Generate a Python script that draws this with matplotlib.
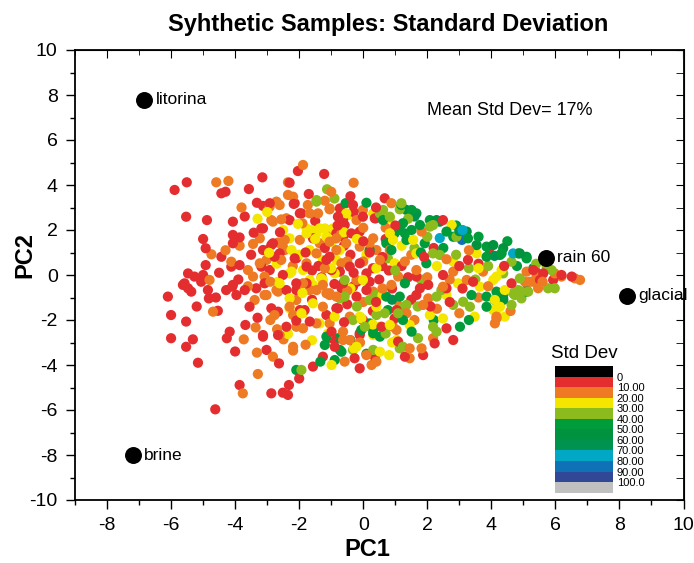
import numpy as np
import matplotlib
matplotlib.use("Agg")
import matplotlib.pyplot as plt
from matplotlib.colors import ListedColormap, BoundaryNorm
from matplotlib.ticker import MultipleLocator

plt.rcParams['font.family'] = ['Liberation Sans', 'DejaVu Sans']
plt.rcParams['axes.unicode_minus'] = False

# sample scores (PC1, PC2), grouped by std dev class
std_0_10 = [
    (-5.89, 3.78), (-5.51, 4.12), (-4.43, 3.63), (-4.3, 3.7), (-3.57, 3.82), (-3.15, 4.34), (-2.04, 4.62),
    (-1.22, 4.49), (-2.3, 4.1), (-5.53, 2.59), (-4.88, 2.44), (-4.07, 2.37), (-3.32, 3.21), (-3.13, 3.07),
    (-2.17, 3.16), (-1.93, 2.74), (-0.79, 2.59), (-2.3, 2.44), (-3.13, 2.07), (-3.42, 1.88), (-4.07, 1.78),
    (-4.07, 1.41), (-3.86, 1.67), (-2.87, 1.33), (-1.57, 1.63), (-4.92, 1.19), (-4.43, 0.81), (-4.92, 0.44),
    (-4.12, 0.37), (-3.86, 0.44), (-5.47, 0.07), (-5.27, -0.07), (-5.0, 0.0), (-5.06, -0.3), (-5.58, -0.37),
    (-5.47, -0.59), (-5.37, -0.74), (-4.85, -0.67), (-6.1, -0.96), (-4.28, -0.67), (-4.09, -0.52),
    (-3.96, -0.89), (-3.7, -0.67), (-3.34, -0.59), (-3.08, -0.37), (-2.77, 0.81), (-2.98, 1.11),
    (-2.09, 0.74), (-1.05, 0.81), (-2.4, -0.67), (-2.09, -0.37), (-1.77, -0.37), (-0.68, -0.59),
    (-5.63, -0.44), (-4.82, -1.04), (-4.07, -0.44), (-3.55, -1.41), (-6.0, -1.78), (-5.53, -2.07),
    (-4.54, -1.59), (-6.0, -2.81), (-5.53, -3.19), (-5.32, -2.86), (-5.16, -3.9), (-4.17, -2.52),
    (-4.26, -2.81), (-3.68, -2.22), (-3.13, -2.74), (-3.02, -3.33), (-2.63, -3.93), (-3.86, -4.89),
    (-2.87, -5.26), (-2.51, -5.23), (-2.35, -5.33), (-2.32, -4.89), (-4.62, -5.97), (-2.66, -2.67),
    (-2.87, -1.48), (-2.66, -1.63), (-2.09, -2.03), (-1.83, -1.56), (-1.15, -1.78), (-0.79, -1.48),
    (-0.99, -2.81), (-0.89, -3.19), (-1.26, -3.63), (-1.57, -4.07), (-0.99, -2.52),
    (0.67, 3.41), (0.39, 2.52), (2.49, 2.44), (3.95, 0.96), (5.31, 0.22), (1.66, -0.07), (1.97, -0.37),
    (2.49, 0.0), (3.27, 0.67), (3.43, -0.3), (4.63, -0.37), (2.6, -2.37), (2.81, -2.89), (2.23, -3.04),
    (1.87, -3.56), (1.3, -3.63), (1.09, -2.96), (-0.27, -3.7), (-0.11, -4.15), (0.36, -3.63), (1.66, -0.89),
    (1.77, -0.59), (2.6, -0.59), (2.03, -0.44), (-0.11, -2.67), (0.57, -2.3), (0.98, -1.93),
    (5.36, 0.22), (5.62, 0.07), (6.19, 0.0), (6.51, -0.07), (5.52, -0.22), (5.93, -0.22),
    (-2.92, 3.19), (-2.14, 3.19), (-0.73, 2.96), (-0.32, 3.11), (-3.18, 2.07), (-1.98, 2.74), (-0.63, 2.44),
    (-0.58, 2.22), (-0.01, 2.59), (0.36, 2.52), (-2.82, 1.41), (-3.13, 1.11), (-2.61, 0.96), (-2.14, 0.74),
    (-0.84, 1.85), (-0.63, 1.7), (-0.37, 1.85), (-0.11, 1.93), (-1.15, 0.67), (-3.18, 0.37), (-2.92, 0.22),
    (-2.51, 0.0), (-2.09, -0.67), (-1.77, 0.37), (-0.99, 0.22), (-0.73, 0.15), (-0.42, 0.37), (-0.11, 0.52),
    (0.1, 0.07), (-0.63, -0.37), (-0.32, -0.52), (0.1, -0.67), (-0.21, -0.96), (-1.98, -1.56), (-1.67, -2.07),
    (-3.13, -2.67), (-0.84, -1.48), (-0.01, -2.0), (-0.11, -2.59), (1.04, -1.56),
    (0.3, 0.3), (0.5, -0.2), (0.8, 0.2), (-0.4, 0.9), (0.2, 1.0), (0.6, 0.8), (-0.2, -0.3), (0.4, -1.2),
    (-0.5, -1.3), (0.9, -0.6), (1.2, 0.4), (1.4, -0.1), (0.0, 1.5), (-1.3, -0.1), (-1.6, 0.2), (-1.2, 1.2),
    (-0.6, 1.3), (0.7, 1.6), (1.0, 2.2), (-0.3, 2.8), (2.1, -1.4), (3.0, 0.4), (3.6, 0.5), (4.4, 0.4),
    (2.2, 1.2),
    (-1.8, 1.0), (-1.4, 0.4), (-0.9, -0.4), (-0.3, 0.1), (0.2, -0.3), (0.6, 0.4), (-0.8, 2.2), (-1.5, 2.4),
    (-2.6, 1.9), (-3.5, 0.9), (-3.9, -0.2), (-4.5, 0.1), (-4.6, -1.0), (-3.3, -1.9), (-2.4, -2.3),
    (-1.6, -1.1), (-0.6, -2.1), (0.3, -1.6), (1.5, -1.1), (2.7, -1.2), (3.1, -0.6), (1.9, 0.8), (-2.0, -4.6),
    (-0.4, 3.5), (0.4, 3.0), (-1.7, 3.6), (-3.7, 2.6), (-5.0, 1.6), (-5.2, -1.4), (-4.0, -3.4),
]
std_10_20 = [
    (-4.59, 4.12), (-4.21, 4.18), (-1.88, 4.89), (-2.35, 4.12), (-1.0, 3.7), (-2.71, 3.26), (-2.92, 3.04),
    (-2.35, 3.56), (-2.19, 3.48), (-1.73, 3.11), (-1.41, 2.74), (-1.05, 2.92), (-2.82, 2.37), (-2.56, 2.47),
    (-3.86, 1.3), (-3.44, 1.38), (-3.23, 1.63), (-2.66, 1.44), (-2.45, 1.56), (-1.05, 2.0), (-0.84, 1.63),
    (-0.68, 1.85), (-4.74, 0.92), (-4.12, 0.59), (-3.6, 0.22), (-4.8, -0.22), (-3.44, -0.07), (-3.08, -0.07),
    (-3.23, 0.52), (-3.02, 0.67), (-2.45, 1.11), (-2.56, 0.67), (-1.77, 0.52), (-1.46, 0.96), (-0.84, 1.11),
    (-0.68, 0.52), (-3.02, -0.89), (-2.71, -0.67), (-1.46, -0.67), (-1.05, -0.81),
    (-3.39, -1.11), (-4.69, -1.63), (-3.73, -2.86), (-3.36, -2.33), (-3.32, -3.45), (-2.82, -3.63),
    (-3.29, -4.4), (-3.76, -5.26), (-2.19, -3.36), (-2.69, -2.41), (-2.49, -2.86), (-2.66, -0.74),
    (-2.09, -2.3), (-1.88, -2.37), (-0.58, -3.85), (-1.46, -2.15), (-1.05, -2.15), (-0.63, -2.89),
    (-1.67, -0.67), (-1.26, -0.44), (-1.05, -0.89), (-2.09, -1.11), (-2.3, -1.41),
    (0.88, 3.19), (-0.01, 2.89), (1.82, 1.93), (0.31, 1.63), (0.52, 0.67), (0.83, 1.11), (1.09, -0.07),
    (1.66, 0.22), (2.81, 0.15), (2.49, -0.52), (3.74, 0.15), (3.23, -0.22), (5.2, -0.3), (5.41, -0.07),
    (4.11, -2.15), (4.16, -1.93), (2.18, -2.81), (1.45, -3.26), (1.82, -3.26), (1.45, -3.7), (0.1, -3.56),
    (0.41, -3.85), (0.26, -4.0), (-0.42, -2.89), (2.03, -1.04), (1.87, -1.33), (1.35, -1.7), (0.93, -2.3),
    (5.1, 0.15), (5.31, -0.3), (5.46, -0.59), (5.05, -0.3), (5.98, 0.07), (6.61, -0.15), (6.77, -0.22),
    (6.19, -0.07), (4.16, -1.85),
    (-2.61, 3.11), (-1.05, 2.96), (-2.87, 2.44), (-2.4, 2.52), (-1.67, 2.74), (-0.21, 2.44), (-2.51, 1.26),
    (-1.98, 1.56), (-1.36, 1.41), (-1.05, 1.48), (-0.53, 1.41), (-0.11, 1.26), (0.2, 1.41), (0.41, 1.11),
    (-3.08, -0.89), (-1.88, -0.37), (-1.15, -0.81), (-0.84, -0.96), (-0.21, -0.22), (0.31, -0.74),
    (0.88, -0.44), (1.04, -1.11), (-2.77, -1.78), (-2.19, -1.78), (-1.26, -1.41), (-2.61, -2.67),
    (-2.19, -3.19), (-0.63, -2.52), (1.04, -2.44), (-0.42, -1.85),
    (2.6, 0.7), (3.3, 1.1), (3.6, -1.0), (2.3, -1.5), (1.5, 0.9), (0.6, -0.6), (-0.5, 0.6), (0.0, -1.2),
    (-1.2, 0.3), (-0.5, -0.7), (0.0, 0.6), (-2.2, 0.4), (-2.9, -0.3), (-3.6, -0.5), (-1.9, 2.3), (-1.2, 3.3),
    (0.0, 2.1), (0.7, 2.1), (1.3, 0.6), (2.0, -0.1), (2.7, -0.2), (3.9, -0.5), (3.0, -1.7), (1.6, -2.0),
    (-0.1, -3.0), (-1.8, -3.1), (-2.9, -2.0), (-4.3, 1.1), (-3.8, 3.0), (-0.3, 4.1), (4.6, -1.6), (5.6, -0.3),
]
std_20_30 = [
    (-2.04, 2.27), (-2.3, 1.63), (-1.77, 1.85), (-1.62, 2.0), (-1.41, 2.07), (-1.15, 1.7), (-0.99, 1.48),
    (-2.94, 0.99), (-2.24, 1.11), (-2.3, 0.07), (-1.88, 0.22), (-1.26, 0.67), (-0.84, 0.67), (-1.26, -0.22),
    (-0.89, 0.07), (-2.61, -0.37), (-2.35, -2.62), (-1.88, -1.7), (-1.57, -1.26), (-1.36, -2.15),
    (-0.99, -4.0), (-2.3, -1.04), (-1.57, -0.44),
    (-0.53, 2.74), (0.83, 2.52), (0.31, 2.74), (2.76, 2.22), (3.54, 0.96), (1.56, 1.56), (1.66, 0.96),
    (2.81, 0.59), (0.41, 0.3), (0.98, 0.52), (2.96, -0.37), (3.64, -0.52), (4.06, -0.22),
    (4.11, -1.11), (4.16, -1.56), (4.42, -1.85), (3.48, -1.85), (2.08, -1.78), (2.49, -1.93), (0.81, -3.56),
    (1.04, -2.89), (0.52, -3.41), (-0.29, -3.26), (0.31, -2.67), (-0.06, -1.93), (0.52, -2.3), (0.83, -2.22),
    (1.45, -2.22), (4.32, 0.22), (4.16, -0.07), (4.42, -0.67), (4.27, -1.41), (4.06, -1.56),
    (-0.47, 2.67), (-1.36, 2.07), (-1.77, 2.07), (-1.46, 1.85), (-1.2, 2.07), (-0.94, 2.07), (0.83, 1.85),
    (0.93, 1.56), (-2.98, 1.04), (-1.67, 1.11), (-0.73, 1.11), (-2.66, -0.3), (-2.24, 0.15), (-1.67, -0.22),
    (-1.31, -0.15), (-0.01, -0.22), (0.36, 0.3), (0.41, -1.41), (-2.3, -1.48), (-1.93, -1.7), (-0.89, -1.85),
    (-0.11, -1.85), (-0.21, -3.19),
    (-2.5, 2.0), (-2.0, 0.9), (-0.2, 1.6), (0.6, -0.9), (2.3, 0.4), (-3.3, 2.5), (-1.6, -2.9),
    (-1.0, 0.3), (-0.4, -0.6), (0.1, 0.9), (-1.9, -0.8), (-2.7, 0.5), (-1.5, 1.6), (-0.6, 1.9), (1.2, 1.3),
    (0.3, -2.2), (2.6, -0.9), (3.6, 0.3), (-1.1, -2.6), (0.9, -3.0), (-3.0, 2.8),
]
std_30_40 = [
    (-1.13, 3.81), (-1.46, 3.33), (-0.58, -0.96), (-0.65, -1.04), (-1.93, -4.22), (1.19, 3.19), (1.14, 2.92),
    (0.62, 2.89), (2.08, 2.15), (2.18, 2.22), (2.91, 1.7), (4.63, 0.59), (2.18, 0.96), (2.39, 0.89),
    (4.37, 0.07), (4.89, -0.15), (4.68, -0.81), (4.94, -0.74),
    (3.12, -1.19), (2.81, -1.33), (3.33, -1.41), (4.63, -1.33), (4.94, -0.89), (5.15, -0.74), (2.18, -2.3),
    (2.29, -2.52), (1.71, -2.81), (1.14, -3.26), (0.31, -3.33), (-0.32, -3.33), (1.09, -1.7), (0.67, -1.7),
    (1.35, -1.33), (2.29, -0.96), (2.44, -0.67),
    (5.73, 0.37), (5.88, 0.22), (5.77, -0.59), (5.98, -0.59), (4.84, -0.67), (4.94, -1.04), (4.73, -0.89),
    (-1.46, 3.26), (0.83, 2.59), (0.52, 2.74), (0.77, 0.74), (-0.58, -0.22), (0.2, -1.11), (0.41, -0.89),
    (-0.73, -1.04), (-0.32, -2.0), (0.05, -2.3), (0.41, -1.78), (1.14, -1.41), (1.24, -3.19),
    (1.6, 1.2), (3.5, -0.2), (2.9, 0.9), (1.8, -0.2),
    (1.0, 0.2), (2.0, 1.7), (3.3, 0.3), (3.9, 0.4), (1.7, -1.4), (-0.2, -1.4), (0.7, -2.6), (5.4, 0.5),
    (-0.9, 3.4), (1.4, 2.5),
]
std_40_50 = [
    (-0.55, 3.19), (-1.2, -3.11), (-0.73, -3.33), (-0.89, -3.78), (-1.34, -3.85), (-2.09, -4.22),
    (0.1, 3.21), (1.51, 2.89), (1.66, 2.74), (1.24, 2.3), (1.51, 2.0), (1.77, 2.22), (1.3, 1.85),
    (2.08, 2.44), (2.6, 1.93), (2.81, 1.7), (3.27, 1.63), (3.85, 1.26), (4.27, 0.89), (3.85, 0.81),
    (5.1, 0.74), (5.31, 0.3), (1.35, 1.56), (1.92, 1.41), (1.97, 0.52), (1.09, 2.0), (0.72, 1.41),
    (0.88, 1.11), (0.2, 1.11), (3.38, -0.89), (3.85, -0.96), (4.16, -0.74), (3.85, -1.41), (3.02, -2.3),
    (4.37, -1.04), (-0.68, -3.41), (0.52, -2.74), (1.51, -2.52), (0.31, -2.59), (0.2, -2.15),
    (4.32, 0.96), (5.1, -0.74), (4.37, -0.89), (4.11, -1.11), (1.19, 3.11), (0.62, 2.44), (1.14, 2.15),
    (0.98, 1.85), (0.72, -0.96), (1.14, -0.96), (1.3, -0.37), (-1.15, -2.74), (-0.79, -2.81), (-0.06, -2.44),
    (0.31, -2.44), (0.77, -1.56), (1.24, -2.0),
    (2.9, 2.2), (3.6, 1.7), (4.5, 1.5), (4.8, 0.4), (1.8, 1.0), (2.5, 1.2), (0.1, -3.5), (-0.4, -2.9),
    (2.2, -2.0), (3.3, -2.0),
]
std_50_60 = [
    (2.29, 2.44), (2.39, 2.37), (3.23, 1.93), (3.54, 1.33), (4.06, 1.33), (4.37, 1.19), (4.84, 0.96),
    (4.89, 0.96), (5.1, 0.81), (1.35, 2.89), (4.37, -1.11), (5.1, -0.67),
]
std_60_70 = [(3.0, 1.95), (4.1, 0.85), (1.6, 2.6), (0.9, -1.1)]
std_70_80 = [(2.39, 1.64), (3.1, 2.0), (4.68, 0.96)]
std_80_90 = [(3.08, 1.56)]

groups = [std_0_10, std_10_20, std_20_30, std_30_40, std_40_50, std_50_60, std_60_70, std_70_80, std_80_90]
group_std = [5, 15, 25, 35, 45, 55, 65, 75, 85]

end_members = ["litorina", "brine", "rain 60", "glacial"]
end_pc1 = [-6.83, -7.2, 5.7, 8.23]
end_pc2 = [7.78, -8.0, 0.76, -0.93]

std_bounds = [0, 10, 20, 30, 40, 50, 60, 70, 80, 90, 100]
std_labels = ["0", "10.00", "20.00", "30.00", "40.00", "50.00", "60.00", "70.00", "80.00", "90.00", "100.0"]
class_colors = ["#E42D2F", "#EE7A24", "#F5E600", "#8CBB1E", "#009B3A",
                "#00923E", "#00934F", "#00A8C6", "#1072B6", "#304896"]

pts = np.array([p for g in groups for p in g])
vals = np.concatenate([[s] * len(g) for g, s in zip(groups, group_std)])
# mix the classes so no colour is drawn entirely on top
order = np.argsort((np.arange(len(pts)) * 0.618034) % 1.0)
pts, vals = pts[order], vals[order]

cmap = ListedColormap(class_colors)
cmap.set_under("black")
cmap.set_over("#C0C0C0")
norm = BoundaryNorm(std_bounds, cmap.N)

fig = plt.figure(figsize=(6.94, 5.63), dpi=100)
ax = fig.add_axes([75 / 694, 1 - 500 / 563, 608.5 / 694, 450 / 563])

sc = ax.scatter(pts[:, 0], pts[:, 1], c=vals, cmap=cmap, norm=norm, s=54, linewidths=0)

ax.scatter(end_pc1, end_pc2, s=125, c="black", zorder=3)
for name, x, y in zip(end_members, end_pc1, end_pc2):
    ax.annotate(name, (x, y), xytext=(8, 0), textcoords="offset points", va="center", fontsize=12.5)

ax.text(2.0, 7.3, "Mean Std Dev= 17%", fontsize=13, va="center")

ax.set_xlim(-9, 10)
ax.set_ylim(-10, 10)
ax.set_xticks(range(-8, 11, 2))
ax.set_yticks(range(-10, 11, 2))
ax.xaxis.set_minor_locator(MultipleLocator(1))
ax.yaxis.set_minor_locator(MultipleLocator(1))
ax.tick_params(which="major", direction="out", length=6.5, width=1, labelsize=14, pad=6)
ax.tick_params(which="minor", direction="out", length=3.6, width=1)
for s in ax.spines.values():
    s.set_linewidth(1.3)

# inward ticks on top and right
top = ax.secondary_xaxis("top")
top.set_xticks(range(-8, 11, 2))
top.xaxis.set_minor_locator(MultipleLocator(1))
top.tick_params(which="both", direction="in", labeltop=False)
top.tick_params(which="major", length=6)
top.tick_params(which="minor", length=3.5)
right = ax.secondary_yaxis("right")
right.set_yticks(range(-10, 11, 2))
right.yaxis.set_minor_locator(MultipleLocator(1))
right.tick_params(which="both", direction="in", labelright=False)
right.tick_params(which="major", length=6)
right.tick_params(which="minor", length=6)

fig.text(388 / 694, 1 - 25 / 563, "Syhthetic Samples: Standard Deviation",
         ha="center", va="center", fontsize=17, fontweight="bold")
fig.text(367 / 694, 1 - 550 / 563, "PC1", ha="center", va="center", fontsize=17, fontweight="bold")
fig.text(25 / 694, 1 - 255 / 563, "PC2", ha="center", va="center", fontsize=17,
         fontweight="bold", rotation=90)

cax = fig.add_axes([555 / 694, 1 - 492.7 / 563, 57.7 / 694, 126.7 / 563])
cb = fig.colorbar(sc, cax=cax, extend="both", extendrect=True, extendfrac=0.1, ticks=std_bounds)
cb.set_ticklabels(std_labels)
cb.outline.set_visible(False)
cb.ax.invert_yaxis()
cb.ax.tick_params(length=0, labelsize=8, pad=3)
cax.set_title("Std Dev", fontsize=13.5, pad=6)

fig.savefig("out.png", dpi=100)
